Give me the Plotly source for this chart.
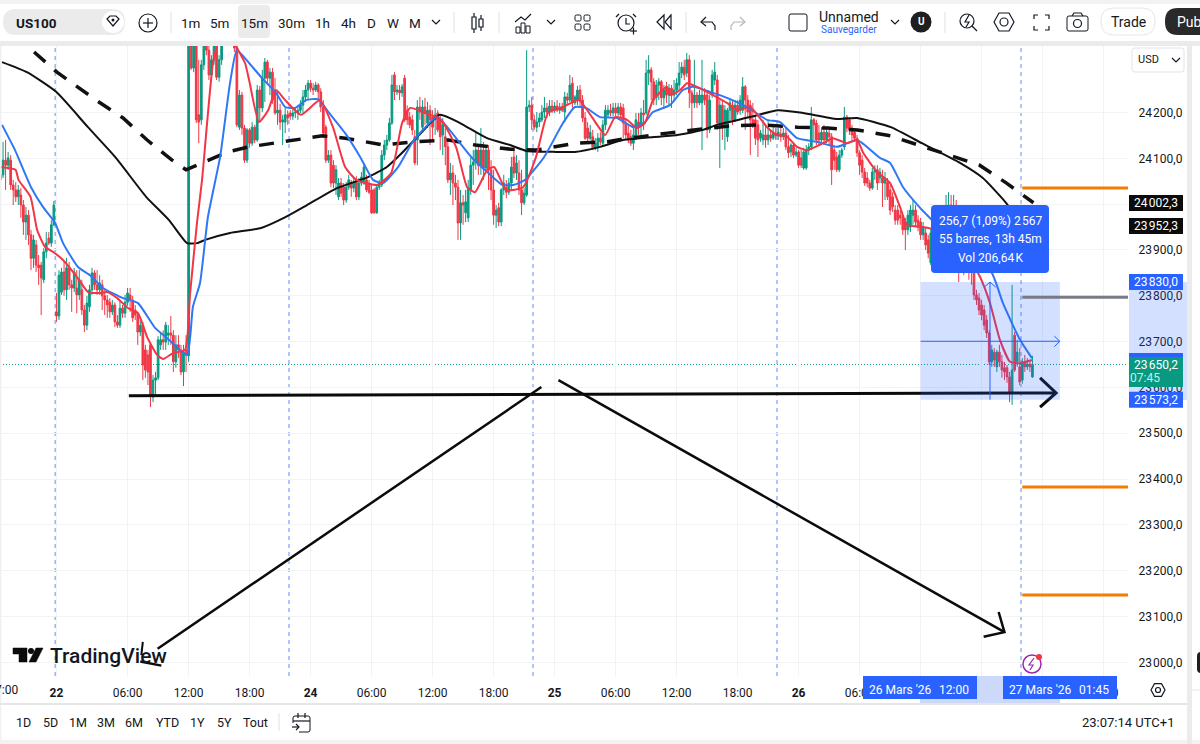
import plotly.graph_objects as go

# --------------------------------------------------
# chart data: 15m bars of US100
# --------------------------------------------------

opens = [
    24053, 24064, 24096, 24085, 24096, 24042, 24031, 24016, 24020, 23998,
    23961, 23976, 23933, 23882, 23911, 23867, 23867, 23835, 23896, 23926,
    23915, 23955, 23765, 23756, 23808, 23852, 23813, 23861, 23824, 23817,
    23817, 23802, 23813, 23769, 23736, 23776, 23813, 23850, 23824, 23813,
    23824, 23800, 23791, 23786, 23765, 23780, 23743, 23736, 23773, 23762,
    23786, 23802, 23791, 23769, 23758, 23721, 23736, 23682, 23671, 23693,
    23579, 23616, 23621, 23693, 23704, 23699, 23714, 23719, 23714, 23656,
    23693, 23682, 23634, 23682, 23669, 24345, 24297, 24358, 24195, 24184,
    24304, 24358, 24336, 24282, 24315, 24347, 24277, 24315, 24369, 24391,
    24402, 24384, 24369, 24341, 24168, 24238, 24166, 24096, 24162, 24133,
    24168, 24140, 24249, 24210, 24275, 24310, 24275, 24288, 24249, 24199,
    24205, 24179, 24179, 24195, 24199, 24192, 24199, 24199, 24205, 24216,
    24234, 24249, 24264, 24253, 24249, 24260, 24245, 24212, 24168, 24096,
    24107, 24085, 24046, 24016, 24046, 24037, 24009, 24037, 24048, 24035,
    24053, 24016, 24046, 24046, 24053, 24046, 24031, 24031, 23981, 24037,
    24042, 24107, 24129, 24140, 24177, 24282, 24245, 24249, 24243, 24275,
    24205, 24190, 24184, 24147, 24140, 24212, 24168, 24212, 24177, 24205,
    24190, 24184, 24199, 24184, 24151, 24147, 24125, 24053, 24068, 24046,
    24037, 23959, 24003, 23981, 23970, 24031, 24085, 24092, 24118, 24085,
    24118, 24079, 24118, 24075, 24031, 23976, 23992, 23961, 24031, 24037,
    24026, 24046, 24103, 24068, 24068, 24031, 24003, 24020, 24212, 24216,
    24184, 24168, 24179, 24184, 24201, 24210, 24201, 24214, 24205, 24214,
    24205, 24212, 24201, 24234, 24227, 24264, 24221, 24227, 24249, 24227,
    24188, 24166, 24144, 24147, 24123, 24123, 24144, 24133, 24173, 24195,
    24205, 24199, 24210, 24199, 24212, 24210, 24177, 24155, 24147, 24133,
    24147, 24179, 24173, 24199, 24199, 24286, 24293, 24267, 24232, 24260,
    24267, 24232, 24256, 24238, 24253, 24238, 24249, 24260, 24286, 24299,
    24286, 24315, 24243, 24221, 24238, 24221, 24221, 24238, 24238, 24162,
    24238, 24271, 24271, 24173, 24216, 24168, 24147, 24205, 24216, 24184,
    24216, 24205, 24205, 24256, 24227, 24216, 24184, 24184, 24173, 24144,
    24140, 24151, 24140, 24151, 24144, 24155, 24149, 24153, 24147, 24155,
    24125, 24114, 24129, 24107, 24114, 24101, 24079, 24079, 24118, 24125,
    24184, 24177, 24155, 24140, 24157, 24140, 24155, 24147, 24118, 24103,
    24075, 24107, 24125, 24190, 24184, 24166, 24157, 24144, 24112, 24096,
    24070, 24057, 24046, 24035, 24070, 24075, 24057, 24057, 24046, 24048,
    24031, 24016, 23987, 23987, 23976, 23970, 23961, 23944, 23950, 23976,
    23987, 23965, 23961, 23933, 23937, 23922, 23872, 23937, 23948, 23922,
    23955, 23944, 23965, 23976, 23998, 23976, 23987, 23944, 23911, 23922,
    23889, 23900, 23867, 23852, 23802, 23795, 23780, 23769, 23747, 23719,
    23656, 23677, 23645, 23677, 23656, 23643, 23643, 23623, 23588, 23714,
    23656, 23645, 23616, 23656, 23645, 23651, 23623,
]

highs = [
    24096, 24136, 24140, 24114, 24107, 24053, 24048, 24042, 24035, 24009,
    23994, 23987, 23944, 23933, 23922, 23889, 23874, 23904, 23939, 23939,
    23965, 24007, 23806, 23856, 23861, 23874, 23883, 23874, 23835, 23861,
    23856, 23856, 23835, 23780, 23800, 23824, 23861, 23856, 23856, 23845,
    23835, 23813, 23802, 23795, 23791, 23786, 23758, 23791, 23780, 23802,
    23817, 23817, 23800, 23780, 23765, 23747, 23743, 23693, 23682, 23699,
    23627, 23634, 23712, 23721, 23725, 23743, 23736, 23756, 23725, 23714,
    23714, 23693, 23693, 23714, 24391, 24358, 24369, 24369, 24315, 24315,
    24369, 24369, 24347, 24325, 24358, 24358, 24325, 24369, 24402, 24413,
    24413, 24398, 24391, 24354, 24249, 24245, 24173, 24166, 24166, 24179,
    24173, 24260, 24258, 24293, 24319, 24315, 24297, 24297, 24275, 24249,
    24219, 24195, 24210, 24205, 24205, 24210, 24212, 24216, 24227, 24249,
    24260, 24271, 24271, 24264, 24267, 24264, 24253, 24227, 24173, 24118,
    24118, 24096, 24085, 24057, 24057, 24046, 24048, 24064, 24053, 24059,
    24061, 24057, 24070, 24090, 24064, 24053, 24042, 24035, 24042, 24053,
    24118, 24140, 24151, 24188, 24282, 24288, 24260, 24260, 24262, 24282,
    24216, 24201, 24195, 24162, 24227, 24234, 24227, 24232, 24223, 24216,
    24205, 24210, 24205, 24195, 24188, 24166, 24140, 24090, 24085, 24064,
    24053, 24031, 24020, 24031, 24053, 24101, 24118, 24155, 24129, 24166,
    24136, 24129, 24129, 24096, 24075, 23998, 24003, 24035, 24064, 24053,
    24057, 24103, 24118, 24107, 24096, 24075, 24035, 24336, 24227, 24234,
    24195, 24201, 24199, 24216, 24234, 24221, 24227, 24227, 24223, 24227,
    24221, 24221, 24245, 24243, 24282, 24277, 24238, 24258, 24260, 24238,
    24201, 24179, 24173, 24162, 24144, 24155, 24157, 24184, 24216, 24216,
    24219, 24221, 24221, 24221, 24221, 24219, 24188, 24173, 24162, 24173,
    24199, 24199, 24210, 24227, 24315, 24325, 24299, 24275, 24271, 24275,
    24271, 24260, 24267, 24262, 24260, 24271, 24275, 24310, 24310, 24315,
    24330, 24325, 24249, 24315, 24245, 24249, 24315, 24253, 24249, 24238,
    24293, 24310, 24282, 24227, 24227, 24216, 24210, 24232, 24227, 24227,
    24227, 24238, 24277, 24260, 24238, 24227, 24221, 24195, 24184, 24162,
    24184, 24173, 24184, 24162, 24173, 24166, 24166, 24173, 24166, 24166,
    24151, 24133, 24133, 24123, 24118, 24118, 24123, 24129, 24133, 24212,
    24188, 24184, 24173, 24168, 24173, 24168, 24166, 24155, 24129, 24114,
    24118, 24123, 24212, 24195, 24190, 24173, 24166, 24151, 24118, 24107,
    24079, 24070, 24053, 24079, 24085, 24085, 24079, 24075, 24070, 24057,
    24042, 24026, 23998, 23998, 23987, 23976, 23970, 23987, 23998, 24009,
    23998, 23976, 23970, 23961, 23948, 23933, 23948, 23961, 23955, 23976,
    23965, 23987, 24020, 24026, 24020, 24020, 24009, 23955, 23926, 23933,
    23911, 23911, 23889, 23861, 23813, 23806, 23791, 23780, 23758, 23725,
    23693, 23686, 23682, 23693, 23671, 23656, 23649, 23634, 23824, 23721,
    23704, 23686, 23664, 23671, 23664, 23660, 23669,
]

lows = [
    24031, 24057, 24031, 24075, 24031, 23998, 24005, 23998, 23970, 23933,
    23922, 23911, 23856, 23861, 23852, 23824, 23758, 23828, 23882, 23911,
    23907, 23952, 23743, 23747, 23802, 23800, 23791, 23813, 23765, 23808,
    23762, 23791, 23758, 23721, 23725, 23765, 23802, 23813, 23802, 23802,
    23769, 23758, 23752, 23752, 23758, 23732, 23730, 23730, 23752, 23752,
    23778, 23765, 23743, 23747, 23693, 23712, 23616, 23621, 23605, 23557,
    23568, 23584, 23616, 23682, 23682, 23682, 23693, 23693, 23634, 23643,
    23664, 23627, 23603, 23634, 23656, 24293, 24288, 24177, 24133, 24173,
    24293, 24325, 24271, 24271, 24304, 24271, 24267, 24304, 24354, 24380,
    24373, 24349, 24332, 24168, 24162, 24151, 24090, 24090, 24123, 24127,
    24133, 24136, 24179, 24201, 24223, 24260, 24238, 24219, 24195, 24173,
    24162, 24129, 24155, 24173, 24184, 24184, 24188, 24184, 24199, 24199,
    24223, 24227, 24245, 24238, 24245, 24227, 24201, 24144, 24090, 24090,
    24037, 24035, 24020, 24009, 24016, 23998, 24003, 24031, 24016, 24026,
    24009, 24009, 24040, 24042, 24026, 24022, 23979, 23979, 23979, 24031,
    24037, 24096, 24118, 24136, 24173, 24227, 24238, 24227, 24234, 24179,
    24173, 24166, 24151, 24085, 24085, 24184, 24162, 24173, 24166, 24129,
    24140, 24151, 24157, 24118, 24107, 24085, 24046, 24020, 23998, 24009,
    23922, 23922, 23955, 23961, 23961, 24020, 24042, 24075, 24064, 24064,
    24053, 24070, 24031, 24009, 23955, 23948, 23952, 23952, 24020, 24013,
    24020, 24031, 24057, 24053, 24020, 23976, 23998, 24016, 24201, 24162,
    24162, 24157, 24168, 24179, 24188, 24188, 24192, 24199, 24199, 24201,
    24197, 24201, 24179, 24216, 24223, 24210, 24216, 24216, 24212, 24179,
    24140, 24136, 24140, 24118, 24118, 24114, 24129, 24127, 24162, 24188,
    24192, 24192, 24192, 24192, 24188, 24144, 24140, 24133, 24127, 24118,
    24140, 24151, 24151, 24162, 24195, 24260, 24227, 24216, 24216, 24227,
    24216, 24210, 24221, 24216, 24210, 24227, 24238, 24249, 24275, 24271,
    24277, 24210, 24162, 24210, 24210, 24216, 24118, 24216, 24144, 24155,
    24232, 24260, 24162, 24079, 24140, 24118, 24136, 24177, 24173, 24179,
    24195, 24195, 24199, 24162, 24188, 24107, 24166, 24129, 24103, 24136,
    24129, 24123, 24129, 24136, 24140, 24140, 24140, 24136, 24140, 24118,
    24101, 24103, 24101, 24103, 24079, 24079, 24075, 24075, 24107, 24118,
    24140, 24129, 24129, 24133, 24129, 24133, 24129, 24042, 24075, 24070,
    24070, 24101, 24118, 24157, 24151, 24140, 24136, 24103, 24064, 24057,
    24040, 24037, 24029, 24031, 24053, 24031, 24046, 23994, 24009, 24009,
    23976, 23983, 23955, 23955, 23955, 23933, 23900, 23933, 23939, 23955,
    23952, 23941, 23922, 23922, 23900, 23882, 23867, 23922, 23911, 23911,
    23926, 23933, 23955, 23965, 23961, 23955, 23922, 23830, 23900, 23845,
    23856, 23835, 23824, 23791, 23780, 23758, 23747, 23725, 23708, 23649,
    23645, 23645, 23634, 23645, 23621, 23616, 23610, 23568, 23562, 23634,
    23645, 23605, 23608, 23634, 23638, 23634, 23621,
]

closes = [
    24064, 24096, 24085, 24101, 24042, 24031, 24016, 24031, 23998, 23961,
    23976, 23933, 23882, 23922, 23867, 23861, 23839, 23896, 23915, 23915,
    23955, 23998, 23756, 23845, 23852, 23813, 23861, 23824, 23817, 23852,
    23802, 23835, 23769, 23736, 23784, 23813, 23850, 23824, 23813, 23828,
    23800, 23791, 23780, 23765, 23780, 23743, 23736, 23773, 23762, 23786,
    23806, 23791, 23752, 23758, 23721, 23736, 23649, 23638, 23634, 23584,
    23616, 23621, 23704, 23704, 23699, 23736, 23719, 23714, 23656, 23693,
    23682, 23634, 23677, 23671, 24380, 24297, 24358, 24184, 24179, 24304,
    24358, 24336, 24282, 24315, 24347, 24277, 24315, 24358, 24391, 24402,
    24384, 24369, 24341, 24173, 24238, 24166, 24096, 24162, 24133, 24168,
    24140, 24249, 24210, 24275, 24310, 24275, 24288, 24227, 24199, 24205,
    24179, 24184, 24195, 24188, 24192, 24199, 24201, 24205, 24216, 24234,
    24249, 24264, 24253, 24249, 24260, 24245, 24212, 24155, 24096, 24107,
    24046, 24046, 24075, 24046, 24024, 24009, 24037, 24053, 24035, 24048,
    24016, 24046, 24059, 24081, 24031, 24026, 23981, 23981, 24037, 24046,
    24107, 24129, 24140, 24177, 24260, 24245, 24249, 24243, 24256, 24184,
    24184, 24173, 24162, 24090, 24212, 24201, 24212, 24199, 24205, 24184,
    24168, 24195, 24162, 24147, 24173, 24125, 24053, 24068, 24046, 24037,
    23959, 24003, 23998, 24005, 24035, 24085, 24092, 24118, 24085, 24118,
    24079, 24118, 24075, 24031, 23976, 23987, 23961, 24031, 24046, 24026,
    24046, 24081, 24068, 24090, 24031, 24003, 24024, 24212, 24216, 24184,
    24168, 24179, 24188, 24201, 24210, 24201, 24214, 24205, 24214, 24205,
    24212, 24205, 24234, 24227, 24260, 24221, 24234, 24249, 24227, 24188,
    24144, 24144, 24157, 24123, 24133, 24144, 24136, 24173, 24205, 24205,
    24199, 24210, 24199, 24212, 24195, 24177, 24151, 24140, 24133, 24151,
    24184, 24173, 24199, 24195, 24286, 24293, 24267, 24227, 24260, 24267,
    24232, 24249, 24238, 24253, 24238, 24249, 24264, 24286, 24299, 24282,
    24315, 24243, 24221, 24238, 24221, 24238, 24238, 24227, 24162, 24227,
    24282, 24288, 24177, 24216, 24168, 24205, 24205, 24221, 24184, 24216,
    24201, 24227, 24256, 24227, 24201, 24184, 24173, 24144, 24140, 24155,
    24151, 24140, 24151, 24144, 24155, 24149, 24157, 24147, 24155, 24125,
    24112, 24129, 24107, 24114, 24085, 24085, 24114, 24118, 24125, 24184,
    24173, 24140, 24140, 24157, 24140, 24157, 24147, 24075, 24096, 24075,
    24107, 24118, 24190, 24166, 24162, 24151, 24144, 24112, 24085, 24070,
    24046, 24046, 24035, 24070, 24075, 24046, 24070, 24046, 24057, 24016,
    23987, 23994, 23965, 23965, 23970, 23944, 23944, 23976, 23987, 23987,
    23961, 23950, 23933, 23948, 23911, 23893, 23937, 23948, 23922, 23955,
    23944, 23965, 23976, 23998, 23976, 23987, 23944, 23911, 23922, 23889,
    23900, 23867, 23852, 23802, 23791, 23769, 23758, 23736, 23719, 23656,
    23682, 23660, 23677, 23656, 23638, 23634, 23623, 23588, 23638, 23638,
    23677, 23612, 23656, 23645, 23651, 23645, 23650.2,
]

bar_index = list(range(len(closes)))

# indicator lines (bar number, price)
blue_x = [0.6, 5.7, 12, 16.7, 21.5, 24.6, 30.5, 35.2, 40.3, 48.2, 54.1, 60.8, 65.5, 73.4, 75.7, 78.5, 81.6, 86.4, 90.3, 93,
          97.8, 102.9, 108.4, 112, 115.9, 120.2, 124.9, 129.3, 135.6, 141.5, 146.6, 150.5, 156.4, 162.7, 171.8, 176.1, 185.2,
          191.5, 197.4, 201.7, 206.4, 213.9, 221.3, 226, 230.4, 235.9, 242.6, 248.9, 253.6, 256.7, 263.4, 268.5, 272.5, 279.1,
          285.8, 293.7, 301.6, 306.7, 313.4, 321.2, 329.1, 337, 346, 350, 355.1, 361.8, 366.5, 373.6, 381.4, 390, 394.4, 401.1, 405.8]
blue_y = [24173, 24118, 24037, 23994, 23959, 23915, 23863, 23845, 23817, 23795, 23784, 23730, 23708, 23671, 23776, 23828, 23972, 24103, 24264, 24336,
          24308, 24275, 24243, 24212, 24210, 24227, 24229, 24199, 24155, 24103, 24053, 24046, 24081, 24140, 24190, 24166, 24103,
          24070, 24042, 24042, 24053, 24103, 24177, 24212, 24210, 24190, 24188, 24168, 24179, 24201, 24216, 24249, 24256, 24245,
          24232, 24212, 24184, 24179, 24144, 24136, 24125, 24140, 24101, 24090, 24037, 23992, 23965, 23922, 23889, 23850, 23784, 23704, 23664]

red_x = [0, 5.9, 7.1, 11.8, 14.4, 17.5, 21.4, 24.6, 30.1, 34.5, 39.2, 41.9, 45.9, 50.2, 54.1, 57.7, 61.6, 64, 67.9, 72.6,
         74.6, 77.3, 79.3, 83.6, 86.4, 90, 92.7, 96.2, 97.8, 101.7, 105.3, 108.4, 112, 118.2, 125.7, 130.8, 135.6, 140, 148.2,
         153.7, 158, 161.2, 167, 173.3, 179.2, 183.6, 186.7, 191.5, 194.2, 199, 205.6, 210.7, 215.4, 221.3, 227.6, 232.7, 237.9,
         241.8, 246.5, 250.4, 253.5, 256.7, 262.2, 263.4, 267.4, 270.1, 274, 280.3, 285.8, 289.8, 294.9, 301.6, 305.5, 309.5,
         313.4, 317.3, 323.6, 327.5, 333, 337, 339.4, 344.9, 350, 353.9, 356.6, 363, 366.5, 373.6, 379.5, 385.4, 389.3, 393.2, 397.2, 401.1, 405.8]
red_y = [24081, 24075, 24053, 24016, 23944, 23907, 23893, 23878, 23841, 23808, 23806, 23808, 23795, 23773, 23762, 23710, 23671, 23662, 23675, 23682,
         23806, 23959, 24053, 24308, 24369, 24391, 24345, 24308, 24271, 24179, 24205, 24249, 24227, 24195, 24227, 24168, 24081, 24053, 24042,
         24068, 24177, 24210, 24199, 24184, 24125, 24037, 24026, 24075, 24081, 24031, 24037, 24103, 24199, 24212, 24227, 24190, 24151,
         24190, 24184, 24166, 24177, 24227, 24256, 24238, 24249, 24264, 24256, 24238, 24221, 24205, 24212, 24168, 24151, 24147,
         24125, 24118, 24133, 24144, 24133, 24140, 24112, 24070, 24046, 23994, 23955, 23950, 23946, 23933, 23900, 23841, 23784, 23704, 23656, 23653, 23660]

black_x = [0.6, 10.4, 21.9, 34.4, 45.1, 57.3, 66.3, 73.4, 77.4, 80.5, 90.3, 102.5, 111.5, 120.6, 132.4, 144.6, 152, 158, 165.4, 172.9, 180.8,
           191.4, 200.5, 207.1, 218.6, 226, 235.9, 244.9, 266.2, 276.4, 281.9, 294.9, 305.9, 315.7, 329.1, 337, 350.3, 362.5, 377.5, 386.5, 395.6, 402.1]
black_y = [24310, 24288, 24245, 24168, 24103, 24016, 23965, 23915, 23915, 23922, 23937, 23948, 23970, 23998, 24035, 24059, 24081, 24112, 24155, 24195, 24177,
           24144, 24129, 24116, 24114, 24114, 24125, 24140, 24151, 24162, 24173, 24190, 24205, 24199, 24186, 24188, 24168, 24133, 24090, 24057, 24003, 23955]

dashed_x = [13.2, 22.2, 37.6, 48.2, 57.7, 67.5, 73, 89.5, 97.8, 126.6, 135.6, 150.6, 162.8, 176.2, 186.8, 200.6, 210.8, 226.2, 238.8, 245,
            262.4, 276.6, 287.2, 300.2, 313.6, 325.4, 337.2, 350.2, 361.2, 373.4, 385.2, 395.8, 406.4]
dashed_y = [24332, 24288, 24227, 24188, 24140, 24096, 24075, 24114, 24125, 24149, 24144, 24129, 24136, 24140, 24129, 24120, 24118, 24133, 24136, 24142,
            24155, 24164, 24171, 24173, 24168, 24166, 24162, 24149, 24129, 24107, 24085, 24046, 24003]

# hand drawn arrows (bar number, price)
support_x = [50.5, 415.3]
support_y = [23582, 23588]
support_head_x = [409, 415.3, 409]
support_head_y = [23621, 23588, 23557]
rise_x = [61.8, 212.8]
rise_y = [23030, 23601]
rise_hook_x = [56, 55.4]
rise_hook_y = [23045, 23016]
rise_foot_x = [55, 63.3]
rise_foot_y = [23002, 22993]
fall_x = [219.5, 395]
fall_y = [23616, 23066]
fall_head_x = [392.7, 395, 386.8]
fall_head_y = [23110, 23066, 23056]

# position tool and levels
range_bars = [362, 416.8]
range_prices = [23830, 23573.2]
range_mid_price = 23700.8
range_mid_bar = 389.3
range_marks_x = [414.6, 416.8, 414.6]
range_marks_y = [23712, 23700.8, 23689]
last_price = 23650.2

level_start = 402
orange_levels = [24035, 23383, 23147]
gray_levels = [23797]

session_breaks = [21.5, 113.5, 209.5, 305.5, 401.5]

x_tick_vals = [22, 50, 74, 98, 122, 146, 170, 194, 218, 242, 266, 290, 314, 338, 362, 386, 410, 434]
x_tick_text = ["<b>22</b>", "06:00", "12:00", "18:00", "<b>24</b>", "06:00", "12:00", "18:00", "<b>25</b>",
               "06:00", "12:00", "18:00", "<b>26</b>", "06:00", "12:00", "18:00", "<b>27</b>", "06:00"]

y_tick_vals = [24200, 24100, 24000, 23900, 23800, 23700, 23600, 23500, 23400, 23300, 23200, 23100, 23000]
y_tick_text = ["24\u200a200,0", "24\u200a100,0", "24\u200a000,0", "23\u200a900,0", "23\u200a800,0", "23\u200a700,0", "23\u200a600,0",
               "23\u200a500,0", "23\u200a400,0", "23\u200a300,0", "23\u200a200,0", "23\u200a100,0", "23\u200a000,0"]

tag_prices = [24002.3, 23952.3, 23830.0, 23573.2]
tag_texts = ["24\u200a002,3", "23\u200a952,3", "23\u200a830,0", "23\u200a573,2"]
tag_colors = ["#0b0b0b", "#0b0b0b", "#2962ff", "#2962ff"]

interval_names = ["1m", "5m", "15m", "30m", "1h", "4h", "D", "W", "M"]
interval_pos = [190, 220, 254, 291, 322, 348, 371, 393, 415]
range_names = ["1D", "5D", "1M", "3M", "6M", "YTD", "1Y", "5Y", "Tout"]
range_pos = [23, 50, 78, 106, 134, 167, 197, 224, 255]

# --------------------------------------------------
# page layout
# --------------------------------------------------

W, H = 1200, 744
PLOT_RIGHT, PLOT_TOP, PLOT_BOTTOM = 1128, 46, 676
X_RANGE = [-0.2, 443.6]
Y_RANGE = [22970.4, 24345.1]

INK = "#131722"
BLUE = "#2962ff"
GREEN = "#089981"
RED = "#f23645"
FONT = "Roboto"

shapes = []
notes = []


def px(x):
    return x / W


def py(y):
    return 1 - y / H


def box(x0, y0, x1, y1, fill=None, line=None, width=1):
    shapes.append(dict(type="rect", xref="paper", yref="paper", x0=px(x0), y0=py(y0), x1=px(x1), y1=py(y1),
                       fillcolor=fill, line=dict(color=line, width=width if line else 0), layer="above"))


def round_box(x0, y0, x1, y1, r, fill=None, line=None, width=1):
    d = (f"M{px(x0 + r)},{py(y0)} L{px(x1 - r)},{py(y0)} Q{px(x1)},{py(y0)} {px(x1)},{py(y0 + r)} "
         f"L{px(x1)},{py(y1 - r)} Q{px(x1)},{py(y1)} {px(x1 - r)},{py(y1)} L{px(x0 + r)},{py(y1)} "
         f"Q{px(x0)},{py(y1)} {px(x0)},{py(y1 - r)} L{px(x0)},{py(y0 + r)} Q{px(x0)},{py(y0)} {px(x0 + r)},{py(y0)} Z")
    shapes.append(dict(type="path", xref="paper", yref="paper", path=d, fillcolor=fill,
                       line=dict(color=line, width=width if line else 0), layer="above"))


def ring(x, y, r, fill=None, line=INK, width=1.2):
    shapes.append(dict(type="circle", xref="paper", yref="paper", x0=px(x - r), y0=py(y + r), x1=px(x + r), y1=py(y - r),
                       fillcolor=fill, line=dict(color=line, width=width if line else 0), layer="above"))


def stroke(points, color=INK, width=1.2, closed=False, fill=None):
    d = "M" + " L".join(f"{px(a)},{py(b)}" for a, b in points)
    if closed:
        d += " Z"
    shapes.append(dict(type="path", xref="paper", yref="paper", path=d, fillcolor=fill,
                       line=dict(color=color, width=width), layer="above"))


def chevron(x, y, color=INK):
    stroke([(x - 4, y - 2), (x, y + 2), (x + 4, y - 2)], color)


def hexagon(x, y, r, inner):
    stroke([(x - r, y), (x - r / 2, y - r * 0.9), (x + r / 2, y - r * 0.9), (x + r, y), (x + r / 2, y + r * 0.9), (x - r / 2, y + r * 0.9)], closed=True)
    ring(x, y, inner)


def label(text, x, y, size=12, color=INK, anchor="center", yref="paper", weight="normal"):
    notes.append(dict(text=text, x=px(x), y=py(y) if yref == "paper" else y, xref="paper", yref=yref, xanchor=anchor,
                      yanchor="middle", showarrow=False, font=dict(family=FONT, size=size, color=color, weight=weight)))


# levels and session lines, behind the candles
for bar in session_breaks:
    shapes.append(dict(type="line", xref="x", yref="paper", x0=bar, x1=bar, y0=py(PLOT_BOTTOM), y1=py(PLOT_TOP),
                       line=dict(color="#7fa3f7", width=1.2, dash="4px,4px"), layer="below"))
shapes.append(dict(type="line", xref="paper", yref="y", x0=0, x1=px(PLOT_RIGHT), y0=last_price, y1=last_price,
                   line=dict(color=GREEN, width=1, dash="1px,2px"), layer="below"))

# position tool over the candles
shapes.append(dict(type="rect", xref="x", yref="y", x0=range_bars[0], x1=range_bars[1], y0=range_prices[1], y1=range_prices[0],
                   fillcolor="rgba(41,98,255,0.2)", line=dict(width=0), layer="above"))
shapes.append(dict(type="line", xref="x", yref="y", x0=range_bars[0], x1=range_bars[1], y0=range_mid_price, y1=range_mid_price,
                   line=dict(color=BLUE, width=1), layer="above"))
shapes.append(dict(type="line", xref="x", yref="y", x0=range_mid_bar, x1=range_mid_bar, y0=range_prices[1], y1=range_prices[0],
                   line=dict(color=BLUE, width=1), layer="above"))
for i in range(2):
    shapes.append(dict(type="line", xref="x", yref="y", x0=range_marks_x[i], x1=range_marks_x[i + 1], y0=range_marks_y[i], y1=range_marks_y[i + 1],
                       line=dict(color=BLUE, width=1), layer="above"))
    shapes.append(dict(type="line", xref="x", yref="y", x0=range_mid_bar + (i * 2 - 1) * 2.2, x1=range_mid_bar, y0=range_prices[0] - 11, y1=range_prices[0],
                       line=dict(color=BLUE, width=1), layer="above"))

for price in orange_levels:
    shapes.append(dict(type="line", xref="x", yref="y", x0=level_start, x1=X_RANGE[1], y0=price, y1=price,
                       line=dict(color="#f57c00", width=3), layer="above"))
for price in gray_levels:
    shapes.append(dict(type="line", xref="x", yref="y", x0=level_start, x1=X_RANGE[1], y0=price, y1=price,
                       line=dict(color="#787b86", width=3), layer="above"))

# measure tooltip
round_box(931, 205, 1049, 273, 4, fill=BLUE)
label("256,7 (1,09%) 2\u200a567", 990, 221, 12, "white")
label("55 barres, 13h 45m", 990, 239, 12, "white")
label("Vol 206,64\u200aK", 990, 258, 12, "white")

# price axis tags
box(PLOT_RIGHT + 1, 282, 1187, 400, fill="rgba(41,98,255,0.2)")
box(1129, 353, 1183, 360, fill=BLUE)
for price, text, color in zip(tag_prices, tag_texts, tag_colors):
    shapes.append(dict(type="rect", xref="paper", yref="y", x0=px(1129), x1=px(1183), y0=price - 17.5, y1=price + 17.5,
                       fillcolor=color, line=dict(width=0), layer="above"))
    label(text, 1156, price, 12, "white", yref="y")
box(1129, 357, 1183, 387, fill=GREEN)
label("23\u200a650,2", 1156, 365, 12, "white")
label("07:45", 1145, 378, 12, "#c9efe6")

# time axis tags
box(920, PLOT_BOTTOM, 1060, 703, fill="#ccd9fb")
box(863, PLOT_BOTTOM, 977, 699, fill=BLUE)
box(1003, PLOT_BOTTOM, 1117, 699, fill=BLUE)
label("26 Mars '26", 900, 690, 12, "white")
label("12:00", 954, 690, 12, "white")
label("27 Mars '26", 1040, 690, 12, "white")
label("01:45", 1094, 690, 12, "white")

# watermark
stroke([(13, 648), (27, 648), (27, 662), (19, 662), (19, 654), (13, 654)], "#0b0b0b", 0.5, True, "#0b0b0b")
ring(31, 651, 3, fill="#0b0b0b", line=None)
stroke([(36, 648), (43, 648), (36, 662), (29, 662)], "#0b0b0b", 0.5, True, "#0b0b0b")
label("TradingView", 48, 656, 21, "#131722", anchor="left", weight=500)

# event badge
ring(1032, 664, 9, line="#9c27b0", width=1.5)
stroke([(1034, 658), (1029, 665), (1033, 665), (1030, 670)], "#9c27b0", 1.2)
ring(1039, 657, 3, fill=RED, line=None)

# page frame
box(0, 0, W, 4, fill="#f2f2f2")
box(0, 4, W, 41, fill="white")
box(0, 41, W, PLOT_TOP, fill="#ebebeb")
box(0, PLOT_TOP, 1.5, H, fill="#f0f0f0")
box(0, 703, 1187, 705, fill="#e6e6e6")
box(1.5, 705, 1187, 740, fill="white")
box(0, 740, W, H, fill="#f2f2f2")
box(1187, 46, 1192, H, fill="#ebebeb")
box(1192, 46, W, 740, fill="white")
round_box(1197, 652, 1206, 673, 4, fill="#1e1e1e")
stroke([(1192, 690), (W, 690)], "#ebebeb")
hexagon(1158, 690, 7, 2.5)
label("7:00", 20, 690, 12, anchor="right")

# top toolbar
round_box(3, 9, 125, 35, 13, fill="#ebebeb")
label("<b>US100</b>", 14, 23, 13.5, anchor="left")
ring(113, 22, 11, fill="white", line=None)
stroke([(107, 19), (110, 16), (116, 16), (119, 19), (113, 26)], closed=True)
ring(113, 20, 1.5, fill=INK, line=None)
ring(148, 23, 9)
stroke([(143, 23), (153, 23)])
stroke([(148, 18), (148, 28)])
round_box(238, 5, 270, 38, 4, fill="#ebebeb")
for name, pos in zip(interval_names, interval_pos):
    label(name, pos, 23, 13.5)
chevron(436, 22)
for pos in [171, 454, 499, 686, 945]:
    stroke([(pos, 12), (pos, 33)], "#e6e6e6")

for x0, x1, y0, y1, w0, w1 in [(472, 476, 17, 29, 13, 33), (479, 483, 19, 27, 15, 31)]:
    box(x0, y0, x1, y1, line=INK, width=1.2)
    stroke([((x0 + x1) / 2, w0), ((x0 + x1) / 2, y0)])
    stroke([((x0 + x1) / 2, y1), ((x0 + x1) / 2, w1)])
stroke([(515, 22), (521, 17), (525, 20), (531, 14)])
box(516, 27, 520, 33, line=INK)
box(521, 23, 525, 33, line=INK)
box(526, 26, 530, 33, line=INK)
chevron(551, 22)
for x0, y0 in [(575, 15), (584, 15), (575, 24), (584, 24)]:
    round_box(x0, y0, x0 + 6, y0 + 6, 1.5, line=INK)

ring(626, 23, 8)
stroke([(626, 18), (626, 24), (630, 24)])
stroke([(619, 14), (616, 17)])
stroke([(633, 14), (636, 17)])
stroke([(630, 31), (637, 31)])
stroke([(633.5, 27.5), (633.5, 34.5)])
stroke([(664, 15), (657, 22), (664, 29)], closed=True)
stroke([(671, 15), (665, 22), (671, 29)], closed=True)
stroke([(706, 17), (701, 22), (706, 26)])
stroke([(701, 22), (712, 22), (715, 26), (715, 30)])
stroke([(740, 17), (745, 22), (740, 26)], "#b2b5be")
stroke([(745, 22), (734, 22), (731, 26), (731, 30)], "#b2b5be")
round_box(789, 14, 807, 31, 2, line=INK)
label("Unnamed", 849, 17, 14)
label("Sauvegarder", 849, 30, 10, BLUE)
chevron(895, 22)
ring(921, 22, 10.5, fill="#1f1f1f", line=None)
label("<b>U</b>", 921, 22, 10, "white")

ring(967, 21, 7)
stroke([(972, 26), (977, 31)])
stroke([(969, 15), (965, 22), (969, 22), (966, 27)])
hexagon(1004, 22, 10, 4)
for cx, cy, dx, dy in [(1034, 15, 1, 1), (1049, 15, -1, 1), (1034, 30, 1, -1), (1049, 30, -1, -1)]:
    stroke([(cx + 4 * dx, cy), (cx, cy), (cx, cy + 4 * dy)])
round_box(1067, 16, 1088, 31, 2, line=INK)
stroke([(1072, 16), (1074, 13), (1081, 13), (1083, 16)])
ring(1077.5, 23.5, 4)
round_box(1101, 8, 1155, 35, 13, fill="white", line="#e6e6e6")
label("Trade", 1128, 22, 14)
round_box(1165, 8, 1230, 35, 13, fill="#2a2a2a")
label("Publ", 1175, 22, 14, "white", anchor="left")

# currency button
round_box(1132, 48, 1184, 72, 3, fill="white", line="#e0e3eb")
label("USD", 1136, 59, 11, anchor="left")
chevron(1176, 60)

# bottom bar
for name, pos in zip(range_names, range_pos):
    label(name, pos, 722, 12.5)
stroke([(279, 713), (279, 731)], "#e6e6e6")
round_box(293, 716, 310, 732, 2, line=INK)
stroke([(293, 721), (310, 721)])
stroke([(298, 713), (298, 718)])
stroke([(305, 713), (305, 718)])
box(291, 723, 299, 733, fill="white")
stroke([(292, 727), (299, 727)])
stroke([(296, 724), (299, 727), (296, 730)])
label("23:07:14 UTC+1", 1177, 722, 13, anchor="right")

# --------------------------------------------------
# figure
# --------------------------------------------------

fig = go.Figure()

fig.add_trace(go.Candlestick(
    x=bar_index,
    open=opens,
    high=highs,
    low=lows,
    close=closes,
    whiskerwidth=0,
    increasing=dict(line=dict(color=GREEN, width=1), fillcolor=GREEN),
    decreasing=dict(line=dict(color=RED, width=1), fillcolor=RED),
    showlegend=False,
))

fig.add_trace(go.Scatter(x=black_x, y=black_y, mode="lines", line=dict(color="#111111", width=2, shape="spline", smoothing=0.5), showlegend=False))
fig.add_trace(go.Scatter(x=dashed_x, y=dashed_y, mode="lines", line=dict(color="#111111", width=3.5, dash="15px,12px"), showlegend=False))
fig.add_trace(go.Scatter(x=blue_x, y=blue_y, mode="lines", line=dict(color="#2f77f5", width=2, shape="spline", smoothing=0.5), showlegend=False))
fig.add_trace(go.Scatter(x=red_x, y=red_y, mode="lines", line=dict(color="#f23645", width=2, shape="spline", smoothing=0.5), showlegend=False))

for xs, ys, width in [
    (support_x, support_y, 3),
    (support_head_x, support_head_y, 3),
    (rise_x, rise_y, 2.5),
    (rise_hook_x, rise_hook_y, 2),
    (rise_foot_x, rise_foot_y, 2.5),
    (fall_x, fall_y, 2.5),
    (fall_head_x, fall_head_y, 2.5),
]:
    fig.add_trace(go.Scatter(x=xs, y=ys, mode="lines", line=dict(color="#0b0b0b", width=width), showlegend=False))

fig.update_layout(
    width=W,
    height=H,
    autosize=False,
    margin=dict(l=0, r=0, t=0, b=0),
    paper_bgcolor="white",
    plot_bgcolor="white",
    showlegend=False,
    boxgap=0.05,
    shapes=shapes,
    annotations=notes,
    font=dict(family=FONT, size=12, color=INK),
    xaxis=dict(
        domain=[0, px(PLOT_RIGHT)],
        range=X_RANGE,
        rangeslider=dict(visible=False),
        tickmode="array",
        tickvals=x_tick_vals,
        ticktext=x_tick_text,
        gridcolor="#f2f3f5",
        zeroline=False,
        ticks="outside",
        ticklen=6,
        tickcolor="white",
        tickfont=dict(family=FONT, size=12, color=INK),
        anchor="y",
    ),
    yaxis=dict(
        domain=[py(PLOT_BOTTOM), py(PLOT_TOP)],
        range=Y_RANGE,
        side="right",
        tickmode="array",
        tickvals=y_tick_vals,
        ticktext=y_tick_text,
        gridcolor="#f2f3f5",
        zeroline=False,
        ticks="outside",
        ticklen=7,
        tickcolor="white",
        tickfont=dict(family=FONT, size=12, color=INK),
        anchor="x",
    ),
)

fig.write_html(
    "out.html",
    config=dict(displayModeBar=False),
    post_script="document.body.style.margin='0';document.body.style.overflow='hidden';",
)
